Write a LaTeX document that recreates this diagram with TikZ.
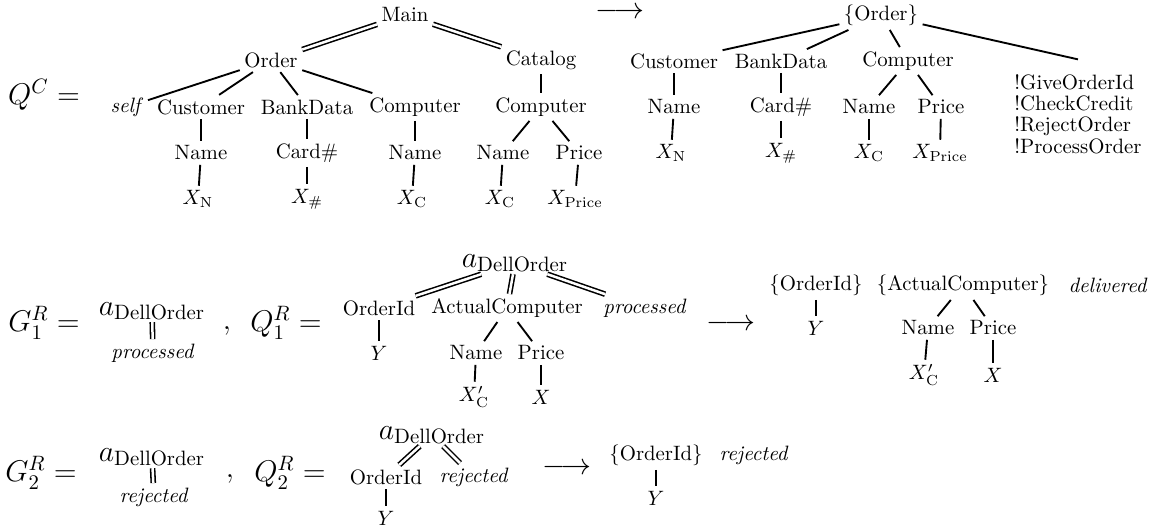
\documentclass[tikz,border=0pt]{standalone}
\usepackage{xcolor}
\usepackage{tikz}
\newcommand{\eqsz}{\fontsize{13.7}{16}\selectfont}
\newcommand{\dell}{$a_{\mathrm{DellOrder}}$}

\begin{document}
\begin{tikzpicture}[x=0.4808pt,y=-0.4808pt,every node/.style={inner sep=2pt}]
			\tikzstyle{lbl} = [inner sep=0pt, font=\eqsz]
			\tikzstyle{agent} = [inner sep=1pt, font=\eqsz]
			\tikzstyle{acts} = [align=left, inner ysep=7pt, font=\fontsize{10}{10.25}\selectfont]
			\tikzset{edge/.style = {-, line width=0.9pt}}
			\tikzset{dedge/.style = {-, line width=0.75pt, double, double distance=1.2pt}}
			\useasboundingbox (0,0) rectangle (1153,531);
			
			% Q^C and its tree
			\node[lbl](qc) at (44,95) {$Q^C =$};
			\node(main) at (405,15) {Main};
			\node(ord) at (271,60) {Order};
			\node(cat) at (541,60) {Catalog};
			\node(self) at (127,107) {\textit{self}};
			\node(cust) at (201,107) {Customer};
			\node(bank) at (307,107) {BankData};
			\node(comp) at (415,107) {Computer};
			\node(ccomp) at (541,107) {Computer};
			\node(custname) at (201,153) {Name};
			\node(card) at (307,153) {Card\#};
			\node(compname) at (415,153) {Name};
			\node(ccname) at (503,153) {Name};
			\node(ccprice) at (579,153) {Price};
			\node(xn) at (198,199) {$X_{\mathrm{N}}$};
			\node(xh) at (307,199) {$X_{\#}$};
			\node(xc) at (412,199) {$X_{\mathrm{C}}$};
			\node(ccxc) at (500,199) {$X_{\mathrm{C}}$};
			\node(ccxp) at (575,199) {$X_{\mathrm{Price}}$};
			\draw[dedge](main) to (ord);
			\draw[dedge](main) to (cat);
			\draw[edge](ord) to (self);
			\draw[edge](ord) to (cust);
			\draw[edge](ord) to (bank);
			\draw[edge](ord) to (comp);
			\draw[edge](cat) to (ccomp);
			\draw[edge](cust) to (custname);
			\draw[edge](bank) to (card);
			\draw[edge](comp) to (compname);
			\draw[edge](ccomp) to (ccname);
			\draw[edge](ccomp) to (ccprice);
			\draw[edge](custname) to (xn);
			\draw[edge](card) to (xh);
			\draw[edge](compname) to (xc);
			\draw[edge](ccname) to (ccxc);
			\draw[edge](ccprice) to (ccxp);
			
			\node[lbl](to1) at (620,13) {$\longrightarrow$};
			
			% result tree
			\node(rord) at (881,15) {\{Order\}};
			\node(rcust) at (674,61) {Customer};
			\node(rbank) at (781,61) {BankData};
			\node(rcomp) at (908,61) {Computer};
			\node[acts](racts) at (1078,114) {!GiveOrderId\\!CheckCredit\\!RejectOrder\\!ProcessOrder};
			\node(rcustname) at (674,107) {Name};
			\node(rcard) at (781,107) {Card\#};
			\node(rcompname) at (869,107) {Name};
			\node(rprice) at (941,107) {Price};
			\node(rxn) at (671,153) {$X_{\mathrm{N}}$};
			\node(rxh) at (781,153) {$X_{\#}$};
			\node(rxc) at (869,153) {$X_{\mathrm{C}}$};
			\node(rxp) at (940,153) {$X_{\mathrm{Price}}$};
			\draw[edge](rord) to (rcust);
			\draw[edge](rord) to (rbank);
			\draw[edge](rord) to (rcomp);
			\draw[edge](rord) to (racts.north);
			\draw[edge](rcust) to (rcustname);
			\draw[edge](rbank) to (rcard);
			\draw[edge](rcomp) to (rcompname);
			\draw[edge](rcomp) to (rprice);
			\draw[edge](rcustname) to (rxn);
			\draw[edge](rcard) to (rxh);
			\draw[edge](rcompname) to (rxc);
			\draw[edge](rprice) to (rxp);
			
			% G_1^R , Q_1^R
			\node[lbl](g1) at (44,323) {$G_1^R =$};
			\node[agent](g1a) at (152,311) {\dell};
			\node(g1p) at (153,353) {\textit{processed}};
			\draw[dedge](g1a) to (g1p);
			\node[lbl](comma1) at (227,331) {$,$};
			\node[lbl](q1) at (286,323) {$Q_1^R =$};
			\node[agent](q1a) at (515,263) {\dell};
			\node(q1id) at (379,308) {OrderId};
			\node(q1ac) at (507,308) {ActualComputer};
			\node(q1p) at (645,308) {\textit{processed}};
			\node(q1y) at (379,353) {$Y$};
			\node(q1name) at (476,353) {Name};
			\node(q1price) at (541,353) {Price};
			\node(q1xc) at (474,397) {$X'_{\mathrm{C}}$};
			\node(q1x) at (541,397) {$X$};
			\draw[dedge](q1a) to (q1id);
			\draw[dedge](q1a) to (q1ac);
			\draw[dedge](q1a) to (q1p);
			\draw[edge](q1id) to (q1y);
			\draw[edge](q1ac) to (q1name);
			\draw[edge](q1ac) to (q1price);
			\draw[edge](q1name) to (q1xc);
			\draw[edge](q1price) to (q1x);
			
			\node[lbl](to2) at (731,325) {$\longrightarrow$};
			
			\node(r1id) at (816,285) {\{OrderId\}};
			\node(r1ac) at (963,285) {\{ActualComputer\}};
			\node(r1del) at (1108,285) {\textit{delivered}};
			\node(r1y) at (816,328) {$Y$};
			\node(r1name) at (928,328) {Name};
			\node(r1price) at (993,328) {Price};
			\node(r1xc) at (924,375) {$X'_{\mathrm{C}}$};
			\node(r1x) at (993,375) {$X$};
			\draw[edge](r1id) to (r1y);
			\draw[edge](r1ac) to (r1name);
			\draw[edge](r1ac) to (r1price);
			\draw[edge](r1name) to (r1xc);
			\draw[edge](r1price) to (r1x);
			
			% G_2^R , Q_2^R
			\node[lbl](g2) at (41,473) {$G_2^R =$};
			\node[agent](g2a) at (152,457) {\dell};
			\node(g2r) at (154,497) {\textit{rejected}};
			\draw[dedge](g2a) to (g2r);
			\node[lbl](comma2) at (230,479) {$,$};
			\node[lbl](q2) at (290,473) {$Q_2^R =$};
			\node[agent](q2a) at (432,435) {\dell};
			\node(q2id) at (386,477) {OrderId};
			\node(q2r) at (474,477) {\textit{rejected}};
			\node(q2y) at (386,518) {$Y$};
			\draw[dedge](q2a) to (q2id);
			\draw[dedge](q2a) to (q2r);
			\draw[edge](q2id) to (q2y);
			
			\node[lbl](to3) at (567,469) {$\longrightarrow$};
			
			\node(r2id) at (656,455) {\{OrderId\}};
			\node(r2r) at (754,455) {\textit{rejected}};
			\node(r2y) at (656,498) {$Y$};
			\draw[edge](r2id) to (r2y);
			
			\end{tikzpicture}
\end{document}
